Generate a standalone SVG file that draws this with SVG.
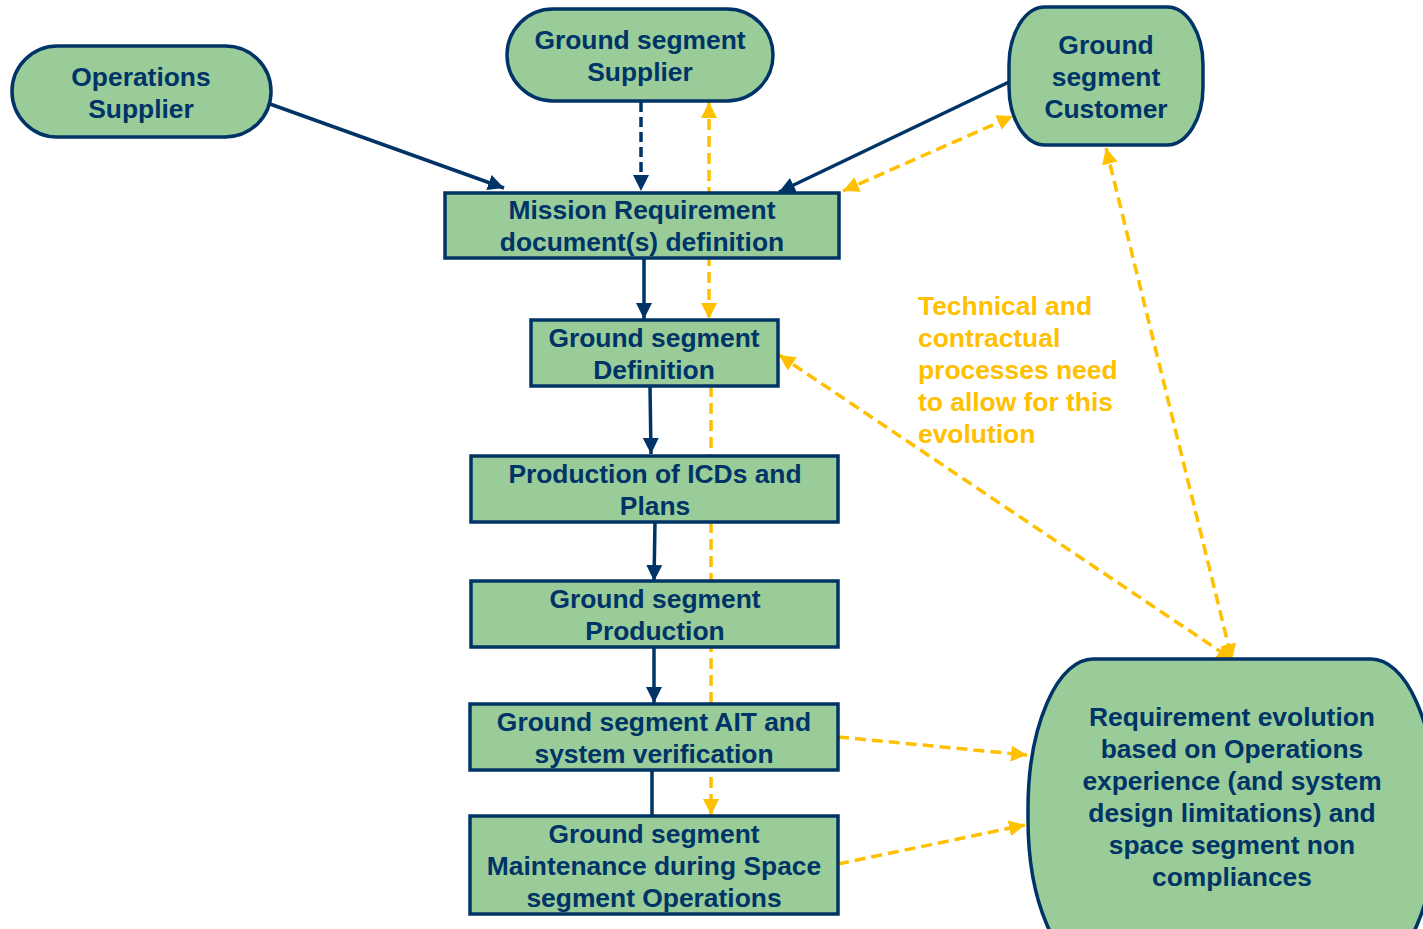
<svg xmlns="http://www.w3.org/2000/svg" width="1423" height="929" viewBox="0 0 1423 929">
<style>
.node{fill:#99cc99;stroke:#003366;stroke-width:3.5}
.t{font-family:"Liberation Sans",Arial,sans-serif;font-weight:bold;font-size:26.4px;fill:#003366;text-anchor:middle}
.y{font-family:"Liberation Sans",Arial,sans-serif;font-weight:bold;font-size:26.4px;fill:#ffc000}
.nav{fill:none;stroke:#003366;stroke-width:3.5}
.navd{fill:none;stroke:#003366;stroke-width:3.5;stroke-dasharray:10,5}
.yel{fill:none;stroke:#ffc000;stroke-width:3.5;stroke-dasharray:11,6}
</style>
<defs>
<marker id="an" markerUnits="userSpaceOnUse" markerWidth="18" markerHeight="18" refX="16" refY="8" orient="auto-start-reverse"><path d="M0,0 L16,8 L0,16 z" fill="#003366"/></marker>
<marker id="ay" markerUnits="userSpaceOnUse" markerWidth="18" markerHeight="18" refX="16" refY="8" orient="auto-start-reverse"><path d="M0,0 L16,8 L0,16 z" fill="#ffc000"/></marker>
</defs>
<rect width="1423" height="929" fill="#ffffff"/>
<g id="connectors">
<line class="nav" x1="270" y1="104" x2="504" y2="188" marker-end="url(#an)"/>
<line class="navd" x1="641" y1="102" x2="641" y2="191" marker-end="url(#an)"/>
<line class="nav" x1="1009" y1="82" x2="779" y2="192" marker-end="url(#an)"/>
<line class="yel" x1="709" y1="102" x2="709" y2="319" marker-start="url(#ay)" marker-end="url(#ay)"/>
<line class="yel" x1="843" y1="191" x2="1013" y2="116" marker-start="url(#ay)" marker-end="url(#ay)"/>
<line class="yel" x1="711" y1="386" x2="711" y2="815" marker-end="url(#ay)"/>
<line class="nav" x1="644" y1="258" x2="644" y2="319" marker-end="url(#an)"/>
<line class="nav" x1="650" y1="386" x2="651" y2="454" marker-end="url(#an)"/>
<line class="nav" x1="655" y1="522" x2="654" y2="581" marker-end="url(#an)"/>
<line class="nav" x1="654" y1="647" x2="654" y2="703" marker-end="url(#an)"/>
<line class="nav" x1="652" y1="770" x2="652" y2="816"/>
<line class="yel" x1="779" y1="355" x2="1233" y2="660" marker-start="url(#ay)" marker-end="url(#ay)"/>
<line class="yel" x1="1106" y1="148" x2="1232" y2="660" marker-start="url(#ay)" marker-end="url(#ay)"/>
<line class="yel" x1="838" y1="737" x2="1027" y2="755" marker-end="url(#ay)"/>
<line class="yel" x1="838" y1="864" x2="1025" y2="825" marker-end="url(#ay)"/>
</g>
<g id="ops-supplier">
<rect class="node" x="12" y="46" width="259" height="91" rx="45.5"/>
<text class="t" x="141" y="86">Operations</text>
<text class="t" x="141" y="118">Supplier</text>
</g>
<g id="gs-supplier">
<rect class="node" x="507" y="9" width="266" height="92" rx="46"/>
<text class="t" x="640" y="49">Ground segment</text>
<text class="t" x="640" y="81">Supplier</text>
</g>
<g id="gs-customer">
<rect class="node" x="1009" y="7" width="194" height="138" rx="36" ry="58"/>
<text class="t" x="1106" y="54">Ground</text>
<text class="t" x="1106" y="86">segment</text>
<text class="t" x="1106" y="118">Customer</text>
</g>
<g id="mission">
<rect class="node" x="445" y="193" width="394" height="65"/>
<text class="t" x="642" y="219">Mission Requirement</text>
<text class="t" x="642" y="251">document(s) definition</text>
</g>
<g id="gs-definition">
<rect class="node" x="531" y="320" width="247" height="66"/>
<text class="t" x="654" y="347">Ground segment</text>
<text class="t" x="654" y="379">Definition</text>
</g>
<g id="icds">
<rect class="node" x="471" y="456" width="367" height="66"/>
<text class="t" x="655" y="483">Production of ICDs and</text>
<text class="t" x="655" y="515">Plans</text>
</g>
<g id="gs-production">
<rect class="node" x="471" y="581" width="367" height="66"/>
<text class="t" x="655" y="608">Ground segment</text>
<text class="t" x="655" y="640">Production</text>
</g>
<g id="ait">
<rect class="node" x="470" y="704" width="368" height="66"/>
<text class="t" x="654" y="731">Ground segment AIT and</text>
<text class="t" x="654" y="763">system verification</text>
</g>
<g id="maintenance">
<rect class="node" x="470" y="816" width="368" height="98"/>
<text class="t" x="654" y="843">Ground segment</text>
<text class="t" x="654" y="875">Maintenance during Space</text>
<text class="t" x="654" y="907">segment Operations</text>
</g>
<g id="req-evolution">
<rect class="node" x="1028" y="659" width="408" height="310" rx="65" ry="150"/>
<text class="t" x="1232" y="726">Requirement evolution</text>
<text class="t" x="1232" y="758">based on Operations</text>
<text class="t" x="1232" y="790">experience (and system</text>
<text class="t" x="1232" y="822">design limitations) and</text>
<text class="t" x="1232" y="854">space segment non</text>
<text class="t" x="1232" y="886">compliances</text>
</g>
<g id="note">
<text class="y" x="918" y="315">Technical and</text>
<text class="y" x="918" y="347">contractual</text>
<text class="y" x="918" y="379">processes need</text>
<text class="y" x="918" y="411">to allow for this</text>
<text class="y" x="918" y="443">evolution</text>
</g>
</svg>
